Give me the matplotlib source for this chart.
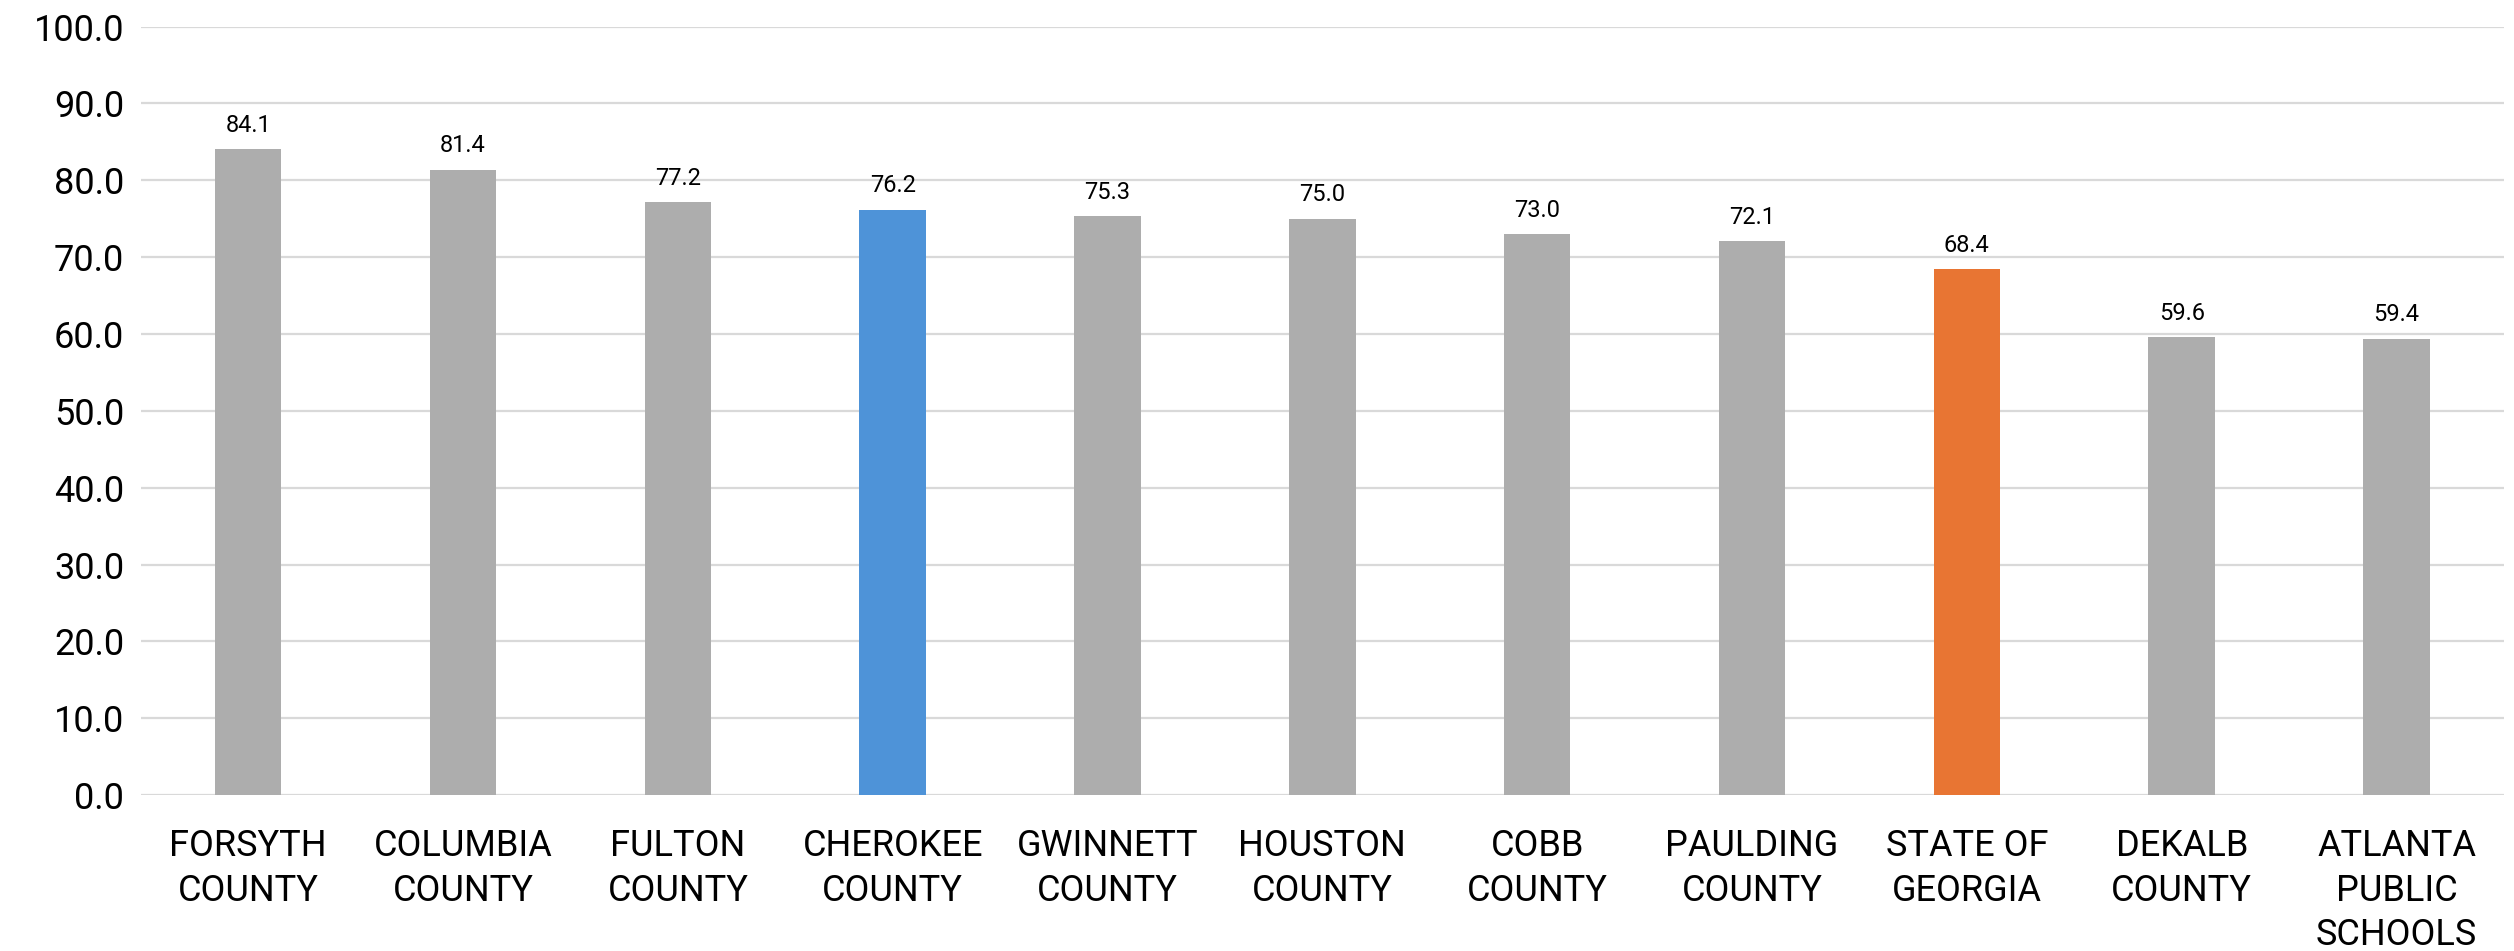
import numpy as np
import matplotlib.pyplot as plt

# Values
categories = ['FORSYTH\nCOUNTY', 'COLUMBIA\nCOUNTY', 'FULTON\nCOUNTY', 'CHEROKEE\nCOUNTY',
              'GWINNETT\nCOUNTY', 'HOUSTON\nCOUNTY', 'COBB\nCOUNTY', 'PAULDING\nCOUNTY',
              'STATE OF\nGEORGIA', 'DEKALB\nCOUNTY', 'ATLANTA\nPUBLIC\nSCHOOLS']
values = [84.1, 81.4, 77.2, 76.2, 75.3, 75.0, 73.0, 72.1, 68.4, 59.6, 59.4]
y_ticks = [0, 10, 20, 30, 40, 50, 60, 70, 80, 90, 100]

grey = '#ADADAD'
blue = '#4E93D8'
orange = '#E87533'
colors = [grey] * len(values)
colors[categories.index('CHEROKEE\nCOUNTY')] = blue
colors[categories.index('STATE OF\nGEORGIA')] = orange

plt.rcParams['font.family'] = ['Roboto', 'DejaVu Sans']

fig = plt.figure(figsize=(25.14, 9.51), dpi=100)
ax = fig.add_axes([0.056, 0.164, 0.94, 0.808])

x = np.arange(len(values))
bars = ax.bar(x, values, width=0.31, color=colors, zorder=3)

for xi, v in zip(x, values):
    ax.text(xi, v + 1.6, f'{v:.1f}', ha='center', va='bottom', fontsize=17, zorder=4)

ax.set_xlim(-0.5, len(values) - 0.5)
ax.set_ylim(0, 100)
ax.set_yticks(y_ticks)
ax.set_yticklabels([f'{t:.1f}' for t in y_ticks])
ax.set_xticks(x)
ax.set_xticklabels(categories, linespacing=1.3)

ax.tick_params(axis='y', length=0, pad=12, labelsize=26)
ax.tick_params(axis='x', length=0, pad=24, labelsize=26)
ax.grid(axis='y', color='#D9D9D9', linewidth=1.6, zorder=0)
for s in ax.spines.values():
    s.set_visible(False)

fig.savefig('out.png', dpi=100)
